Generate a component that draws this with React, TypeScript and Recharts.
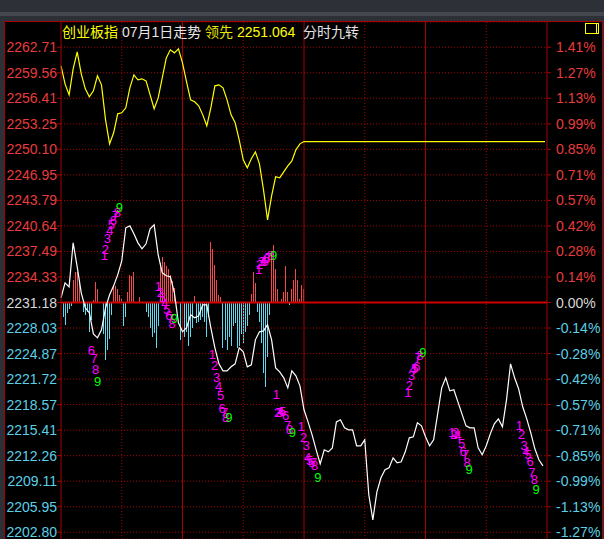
import React from 'react'
import {
  ComposedChart,
  Line,
  Bar,
  Scatter,
  XAxis,
  YAxis,
  CartesianGrid,
  ReferenceLine,
} from 'recharts'

// previous close, the 0.00% line
const BASE = 2231.18
const LEAD_LAST = 2251.064

const yTicks = [
  2262.71, 2259.56, 2256.41, 2253.25, 2250.1, 2246.95, 2243.79, 2240.64, 2237.49, 2234.33,
  2231.18, 2228.03, 2224.87, 2221.72, 2218.57, 2215.41, 2212.26, 2209.11, 2205.95, 2202.8,
]

const solidMinutes = [60, 120, 180]
const dottedMinutes = [30, 90, 150, 210]

// index price, one value every 2 minutes (0..238)
const indexPrice = [
  2231.76, 2233.61, 2233.12, 2238.55, 2235.59, 2232.38, 2230.53, 2229.91, 2227.31, 2226.82,
  2227.81, 2230.53, 2232.13, 2233.24, 2234.6, 2236.33, 2240.41, 2240.65, 2239.67, 2238.55,
  2237.81, 2238.43, 2240.28, 2240.78, 2237.07, 2234.85, 2234.48, 2234.35, 2232.38, 2228.67,
  2227.56, 2228.06, 2229.66, 2229.29, 2229.54, 2230.9, 2230.9, 2228.06, 2225.58, 2223.61,
  2222.74, 2222.74, 2223.24, 2223.61, 2225.58, 2225.09, 2223.24, 2223.48, 2226.57, 2227.56,
  2227.68, 2228.43, 2226.57, 2223.11, 2222.62, 2221.88, 2220.64, 2222.74, 2222.13, 2220.89,
  2217.93, 2216.44, 2214.84, 2212.99, 2211.26, 2212.99, 2212.74, 2213.23, 2216.44, 2216.69,
  2215.7, 2215.46, 2215.46, 2213.48, 2213.48, 2214.22, 2207.43, 2204.34, 2207.8, 2209.53,
  2210.52, 2210.76, 2212.0, 2211.38, 2211.5, 2212.74, 2214.47, 2214.59, 2216.32, 2215.95,
  2214.59, 2213.48, 2214.22, 2217.43, 2220.64, 2221.88, 2220.27, 2220.4, 2218.91, 2217.43,
  2215.95, 2215.7, 2215.7, 2213.23, 2212.37, 2213.48, 2214.96, 2216.2, 2216.81, 2215.83,
  2219.16, 2223.61, 2221.88, 2220.52, 2218.3, 2216.81, 2215.09, 2213.11, 2211.75, 2211.01,
]

// leading index (领先), every 2 minutes (0..120), then held flat
const leadPrice = [
  2260.4, 2258.19, 2256.83, 2260.05, 2262.15, 2259.43, 2257.58, 2256.59, 2257.33, 2259.18,
  2258.07, 2253.75, 2250.78, 2252.14, 2254.49, 2254.61, 2255.23, 2257.7, 2259.3, 2258.69,
  2258.81, 2258.56, 2256.83, 2255.11, 2256.46, 2258.93, 2261.4, 2262.39, 2262.02, 2262.52,
  2260.79, 2258.44, 2256.22, 2255.97, 2255.48, 2254.36, 2253.01, 2255.23, 2257.95, 2258.07,
  2257.7, 2256.22, 2254.36, 2253.38, 2251.28, 2248.81, 2247.82, 2248.93, 2249.79, 2248.31,
  2245.1, 2241.39, 2244.36, 2246.71, 2246.58, 2247.32, 2248.06, 2248.68, 2250.04, 2250.78,
  2251.06,
]

// red/blue strength bars per minute (0..120), measured from BASE
const strength = [
  0, -1.73, -2.72, -1.24, -0.74, -0.37, 2.84, 3.83, 3.83, 2.72,
  0, -1.11, -1.48, -1.11, -3.58, -2.22, 0.37, 2.59, 1.61, 0,
  0, -3.95, -7.04, -5.81, -4.45, -1.48, 2.22, 1.98, 1.61, 0.99,
  0.49, -2.96, -1.73, 1.24, 3.46, 3.33, 3.83, 0, 0, 0.74,
  0, 0, -1.11, -1.85, -3.09, -4.32, -3.71, -5.56, -2.96, 4.94,
  5.68, 5.06, 4.45, 4.08, 3.46, 2.72, 1.85, 0, 0, -4.57,
  -5.43, -4.2, -3.58, -5.43, -4.2, -3.09, 0.86, -2.47, -2.35, -2.1,
  -1.85, -2.35, -4.32, -1.73, 7.53, 6.55, 4.69, 2.84, 0.99, 0.74,
  -5.56, -4.57, -5.81, -4.2, -5.43, -2.96, -2.47, -5.56, -5.43, -3.95,
  -4.94, -3.58, -2.96, -1.48, 1.11, 3.83, 2.47, -1.11, -2.35, -4.94,
  -8.65, -10.38, -6.79, -1.48, 6.05, 7.16, 4.08, 1.61, 0, 0.49,
  1.36, 4.57, 1.24, -0.25, 1.61, 2.84, 4.08, 2.84, 0.49, 2.22,
  1.73,
]

// 分时九转 counts: [minute, price, count]
const turnMarks: [number, number, number][] = [
  [21.4, 2237.07, 1], [21.9, 2237.81, 2], [22.9, 2239.05, 3], [24.1, 2240.16, 4], [24.9, 2240.78, 5],
  [25.9, 2241.39, 6], [26.9, 2241.89, 7], [27.8, 2242.38, 8], [28.8, 2243.0, 9],
  [15.0, 2225.25, 6], [16.3, 2224.23, 7], [17.1, 2222.99, 8], [18.1, 2221.42, 9],
  [48.1, 2233.12, 1], [49.1, 2232.38, 2], [50.1, 2231.88, 3], [51.3, 2231.02, 4], [52.3, 2230.28, 5],
  [53.3, 2229.54, 6], [54.1, 2229.17, 7], [54.9, 2228.67, 8], [56.0, 2229.29, 9],
  [97.6, 2235.22, 1], [98.1, 2235.96, 2], [99.1, 2236.21, 3], [100.0, 2236.45, 4], [100.8, 2236.21, 5],
  [101.5, 2236.7, 6], [102.5, 2236.82, 7], [103.5, 2236.95, 8], [105.0, 2236.95, 9],
  [74.8, 2224.72, 1], [75.8, 2223.48, 2], [76.8, 2222.0, 3], [77.8, 2220.89, 4], [78.8, 2219.66, 5],
  [79.6, 2218.17, 6], [80.8, 2217.56, 7], [81.3, 2217.06, 8], [82.9, 2216.94, 9],
  [106.3, 2219.78, 1], [107.0, 2217.56, 2], [108.0, 2217.56, 3], [108.5, 2217.68, 4], [109.4, 2217.68, 5],
  [110.9, 2217.19, 6], [111.9, 2216.07, 7], [112.9, 2215.46, 8], [114.2, 2215.12, 9],
  [118.7, 2215.95, 1], [119.8, 2214.59, 2], [121.2, 2213.6, 3], [121.8, 2212.0, 4], [122.8, 2211.75, 5],
  [123.8, 2211.5, 6], [124.8, 2211.38, 7], [125.3, 2211.13, 8], [126.9, 2209.53, 9],
  [171.3, 2220.03, 1], [172.0, 2221.01, 2], [173.1, 2222.13, 3], [173.7, 2222.99, 4], [174.7, 2223.11, 5],
  [175.7, 2223.36, 6], [176.4, 2224.35, 7], [177.2, 2224.6, 8], [178.7, 2224.97, 9],
  [193.0, 2215.09, 1], [194.0, 2214.96, 2], [195.0, 2215.09, 3], [196.0, 2214.72, 4], [197.8, 2213.73, 5],
  [198.6, 2212.78, 6], [199.8, 2212.37, 7], [200.6, 2211.42, 8], [201.6, 2210.52, 9],
  [226.3, 2215.99, 1], [227.5, 2214.84, 2], [228.7, 2213.6, 3], [229.7, 2212.78, 4], [230.7, 2212.37, 5],
  [231.7, 2211.54, 6], [232.5, 2210.18, 7], [233.7, 2209.28, 8], [234.6, 2208.13, 9],
]

const rows = Array.from({ length: 241 }, (_, m) => {
  const half = m / 2
  const even = m % 2 === 0
  const s = m < strength.length ? strength[m] : 0
  return {
    m,
    price: even && half < indexPrice.length ? indexPrice[half] : null,
    lead: even && half < leadPrice.length ? leadPrice[half] : m === 239 ? LEAD_LAST : null,
    bar: s !== 0 ? [BASE, BASE + s] : null,
    up: s > 0,
  }
})

const turnRows = turnMarks.map(([m, price, n]) => ({ m, price, n }))

const FONT = '"Liberation Sans", Arial, "Noto Sans CJK SC", sans-serif'
const GRID = '#a80000'
const RED = '#e83c3c'
const CYAN = '#5ccfe6'

const tickColor = (v: number) => (Math.abs(v - BASE) < 0.005 ? '#d8d8d8' : v > BASE ? RED : CYAN)
const pct = (v: number) => `${((v / BASE - 1) * 100).toFixed(2)}%`

const LeftTick = (props: any) => {
  const { x, y, payload } = props
  return (
    <text x={x} y={y} dy="0.36em" textAnchor="end" fontSize={14} fontFamily={FONT} fill={tickColor(payload.value)}>
      {payload.value.toFixed(2)}
    </text>
  )
}

const RightTick = (props: any) => {
  const { x, y, payload } = props
  return (
    <text x={x} y={y} dy="0.36em" textAnchor="start" fontSize={14} fontFamily={FONT} fill={tickColor(payload.value)}>
      {pct(payload.value)}
    </text>
  )
}

// crisp 1px stick, red above the base line, blue below
const Stick = (props: any) => {
  const { x, y, width, height, payload } = props
  if (payload == null || payload.bar == null || !isFinite(y) || !isFinite(height)) return null
  const top = Math.min(y, y + height)
  const h = Math.abs(height)
  return (
    <rect
      x={Math.round(x + width / 2 - 0.5)}
      y={top}
      width={1}
      height={h}
      fill={payload.up ? '#f24a4a' : '#5fd8ee'}
      shapeRendering="crispEdges"
    />
  )
}

const TurnDigit = (props: any) => {
  const { cx, cy, payload } = props
  return (
    <text
      x={cx}
      y={cy}
      dy="0.36em"
      textAnchor="middle"
      fontSize={13}
      fontFamily={FONT}
      fill={payload.n === 9 ? '#00ff00' : '#ff00ff'}
    >
      {payload.n}
    </text>
  )
}

const title = [
  { t: '创业板指', x: 62, c: '#ffff00' },
  { t: '07月1日走势', x: 122, c: '#e6e6e6' },
  { t: '领先', x: 205, c: '#e6e600' },
  { t: LEAD_LAST.toFixed(3), x: 237, c: '#ffff00' },
  { t: '分时九转', x: 303, c: '#e6e6e6' },
]

export default function App() {
  return (
    <div style={{ position: 'relative', width: 604, height: 539, background: '#2d3036', overflow: 'hidden' }}>
      <style>{'body{margin:0}'}</style>
      <div style={{ position: 'absolute', left: 0, top: 12, width: 604, height: 4, background: '#44474e' }} />
      <div
        style={{
          position: 'absolute',
          left: 4,
          top: 21,
          width: 597,
          height: 518,
          background: '#000',
          borderTop: `1px solid ${GRID}`,
          borderLeft: `1px solid ${GRID}`,
          borderRight: `1px solid ${GRID}`,
        }}
      />
      <div style={{ position: 'absolute', left: 0, top: 0 }}>
        <ComposedChart width={604} height={539} data={rows} margin={{ top: 22, right: 0, bottom: 0, left: 0 }}>
          <CartesianGrid vertical={false} stroke={GRID} strokeDasharray="1 2" />
          {dottedMinutes.map((m) => (
            <ReferenceLine key={'d' + m} x={m} stroke={GRID} strokeDasharray="1 2" />
          ))}
          {solidMinutes.map((m) => (
            <ReferenceLine key={'s' + m} x={m} stroke={GRID} />
          ))}
          <ReferenceLine y={BASE} stroke="#d00000" strokeWidth={2} />
          <XAxis type="number" dataKey="m" domain={[0, 240]} hide />
          <YAxis
            width={61}
            domain={[2201.97, 2265.83]}
            allowDataOverflow
            ticks={yTicks}
            interval={0}
            axisLine={{ stroke: GRID }}
            tickLine={{ stroke: GRID }}
            tickSize={4}
            tickMargin={0}
            tick={<LeftTick />}
          />
          <YAxis
            yAxisId="r"
            orientation="right"
            width={57}
            domain={[2201.97, 2265.83]}
            allowDataOverflow
            ticks={yTicks}
            interval={0}
            axisLine={{ stroke: GRID }}
            tickLine={{ stroke: GRID }}
            tickSize={4}
            tickMargin={5}
            tick={<RightTick />}
          />
          <Bar dataKey="bar" barSize={1} shape={<Stick />} isAnimationActive={false} />
          <Line yAxisId="r" dataKey="price" stroke="none" dot={false} isAnimationActive={false} />
          <Line dataKey="lead" stroke="#ffff00" strokeWidth={1.2} dot={false} connectNulls isAnimationActive={false} />
          <Line dataKey="price" stroke="#ffffff" strokeWidth={1.2} dot={false} connectNulls isAnimationActive={false} />
          <Scatter data={turnRows} dataKey="price" shape={<TurnDigit />} isAnimationActive={false} />
        </ComposedChart>
      </div>
      {title.map((s) => (
        <span
          key={s.t}
          style={{
            position: 'absolute',
            left: s.x,
            top: 24,
            fontSize: 14,
            lineHeight: '16px',
            fontFamily: FONT,
            color: s.c,
            whiteSpace: 'nowrap',
          }}
        >
          {s.t}
        </span>
      ))}
      <div
        style={{
          position: 'absolute',
          left: 585,
          top: 23,
          width: 14,
          height: 11,
          border: '1px solid #ffff00',
          boxSizing: 'border-box',
        }}
      >
        <div style={{ position: 'absolute', left: 10, top: 0, width: 1, height: 9, background: '#ffff00' }} />
      </div>
    </div>
  )
}
